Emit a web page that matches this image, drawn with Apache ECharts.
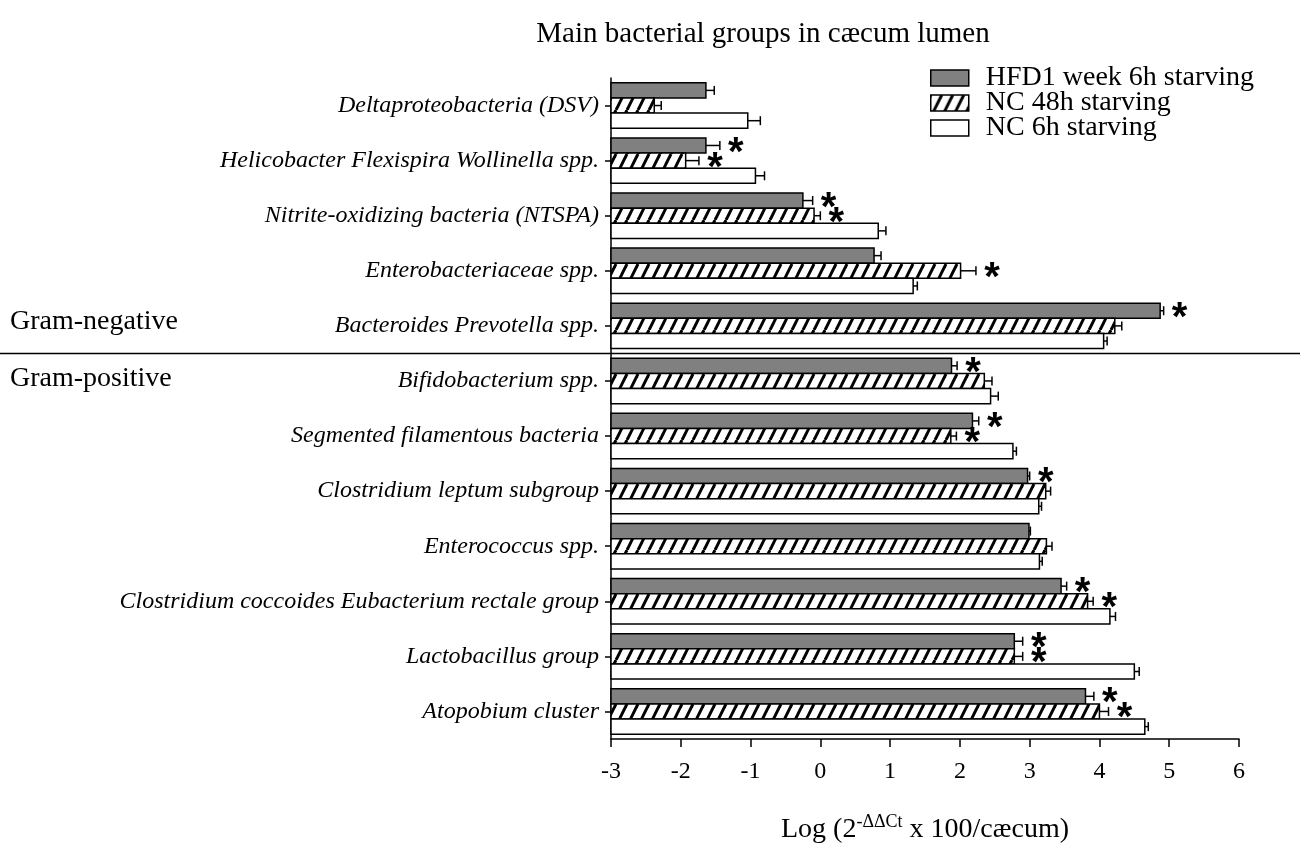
<!DOCTYPE html>
<html>
<head>
<meta charset="utf-8">
<script src="https://cdn.jsdelivr.net/npm/echarts@6/dist/echarts.min.js"></script>
<style>html,body{margin:0;padding:0;background:#fff}#c{width:1309px;height:843px}</style>
</head>
<body>
<div id="c"></div>
<script>
const categories = [
  'Deltaproteobacteria (DSV)',
  'Helicobacter Flexispira Wollinella spp.',
  'Nitrite-oxidizing bacteria (NTSPA)',
  'Enterobacteriaceae spp.',
  'Bacteroides Prevotella spp.',
  'Bifidobacterium spp.',
  'Segmented filamentous bacteria',
  'Clostridium leptum subgroup',
  'Enterococcus spp.',
  'Clostridium coccoides Eubacterium rectale group',
  'Lactobacillus group',
  'Atopobium cluster'
];
const seriesNames = ['HFD1 week 6h starving', 'NC 48h starving', 'NC 6h starving'];
const hfd     = [-1.64, -1.64, -0.25, 0.77, 4.87, 1.88, 2.18, 2.97, 2.99, 3.45, 2.78, 3.80];
const hfdErr  = [0.12, 0.20, 0.14, 0.10, 0.05, 0.08, 0.09, 0.03, 0.02, 0.08, 0.12, 0.12];
const hfdSig  = [0, 1, 1, 0, 1, 1, 1, 1, 0, 1, 1, 1];
const nc48    = [-2.38, -1.93, -0.09, 2.01, 4.22, 2.35, 1.87, 3.23, 3.24, 3.83, 2.78, 4.00];
const nc48Err = [0.10, 0.19, 0.09, 0.22, 0.10, 0.11, 0.08, 0.07, 0.08, 0.08, 0.12, 0.13];
const nc48Sig = [0, 1, 1, 1, 0, 0, 1, 0, 0, 1, 1, 1];
const nc6     = [-1.04, -0.93, 0.83, 1.33, 4.06, 2.44, 2.76, 3.13, 3.14, 4.15, 4.50, 4.65];
const nc6Err  = [0.18, 0.13, 0.11, 0.06, 0.05, 0.11, 0.05, 0.04, 0.04, 0.08, 0.07, 0.05];
const nc6Sig  = [0, 0, 0, 0, 0, 0, 0, 0, 0, 0, 0, 0];
const xTicks = { min: -3, max: 6, interval: 1 };

const FONT = 'Liberation Serif';

// hatch pattern
const pc = document.createElement('canvas');
const PW = 11, PH = 22;
pc.width = PW; pc.height = PH;
const ctx = pc.getContext('2d');
ctx.fillStyle = '#fff'; ctx.fillRect(0, 0, PW, PH);
ctx.strokeStyle = '#000'; ctx.lineWidth = 3;
for (let x0 = -PW; x0 <= PW; x0 += PW) {
  ctx.beginPath(); ctx.moveTo(x0, PH); ctx.lineTo(x0 + PW, 0); ctx.stroke();
}
const hatch = { image: pc, repeat: 'repeat' };

function makeSeries(name, vals, errs, sigs, k, fill) {
  return {
    type: 'custom',
    name: name,
    itemStyle: { color: fill, borderColor: '#000', borderWidth: 1.5 },
    encode: { x: 0, y: 1 },
    data: vals.map((v, i) => [v, i, errs[i], sigs[i]]),
    renderItem: function (params, api) {
      const v = api.value(0), i = api.value(1), e = api.value(2), s = api.value(3);
      const base = api.coord([xTicks.min, i]);
      const end = api.coord([v, i]);
      const eEnd = api.coord([v + e, i]);
      const band = api.size([0, 1])[1];
      const h = band * 0.275;
      const cy = base[1] + k * h;
      const children = [
        { type: 'rect', shape: { x: base[0], y: cy - h / 2, width: end[0] - base[0], height: h },
          style: { fill: fill, stroke: '#000', lineWidth: 1.5 } },
        { type: 'line', shape: { x1: end[0], y1: cy, x2: eEnd[0], y2: cy },
          style: { stroke: '#000', lineWidth: 1.5 } },
        { type: 'line', shape: { x1: eEnd[0], y1: cy - 4.5, x2: eEnd[0], y2: cy + 4.5 },
          style: { stroke: '#000', lineWidth: 1.5 } }
      ];
      if (s) {
        children.push({ type: 'text', x: eEnd[0] + 16, y: cy + 8,
          style: { text: '*', fill: '#000', font: 'bold 40px "Liberation Sans"', align: 'center', verticalAlign: 'middle' } });
      }
      return { type: 'group', children: children };
    }
  };
}

const chart = echarts.init(document.getElementById('c'));
const option = {
  animation: false,
  title: {
    text: 'Main bacterial groups in cæcum lumen',
    left: 758, top: 15, textAlign: 'center',
    textStyle: { fontFamily: FONT, fontSize: 29, fontWeight: 'normal', color: '#000' }
  },
  legend: {
    orient: 'vertical', left: 930, top: 64, padding: 0, itemWidth: 38, itemHeight: 16, itemGap: -3,
    textStyle: { fontFamily: FONT, fontSize: 28, color: '#000', padding: [0, 0, 0, 12], lineHeight: 25 },
    data: [
      { name: seriesNames[0], icon: 'rect', itemStyle: { color: '#808080', borderColor: '#000', borderWidth: 1.5 } },
      { name: seriesNames[1], icon: 'rect', itemStyle: { color: hatch, borderColor: '#000', borderWidth: 1.5 } },
      { name: seriesNames[2], icon: 'rect', itemStyle: { color: '#fff', borderColor: '#000', borderWidth: 1.5 } }
    ]
  },
  grid: { left: 611, right: 70, top: 78, height: 661, outerBoundsMode: 'none', containLabel: false },
  xAxis: {
    type: 'value', min: xTicks.min, max: xTicks.max, interval: xTicks.interval,
    splitLine: { show: false },
    axisLine: { show: true, lineStyle: { color: '#000', width: 1.5 } },
    axisTick: { show: true, length: 8, lineStyle: { color: '#000', width: 1.5 } },
    axisLabel: { color: '#000', fontFamily: FONT, fontSize: 24, margin: 21 },
    name: '{a|Log (2}{sup|-ΔΔCt}{a| x 100/cæcum)}',
    nameLocation: 'middle', nameGap: 74,
    nameTextStyle: {
      rich: {
        a: { fontFamily: FONT, fontSize: 28, color: '#000' },
        sup: { fontFamily: FONT, fontSize: 18, color: '#000', padding: [0, 0, 16, 0] }
      }
    }
  },
  yAxis: {
    type: 'category', inverse: true, data: categories,
    axisLine: { show: true, onZero: false, lineStyle: { color: '#000', width: 1.5 } },
    axisTick: { show: true, length: 6, alignWithLabel: true, lineStyle: { color: '#000', width: 1.5 } },
    axisLabel: { color: '#000', fontFamily: FONT, fontSize: 24, fontStyle: 'italic', margin: 12 }
  },
  series: [
    makeSeries(seriesNames[0], hfd, hfdErr, hfdSig, -1, '#808080'),
    makeSeries(seriesNames[1], nc48, nc48Err, nc48Sig, 0, hatch),
    makeSeries(seriesNames[2], nc6, nc6Err, nc6Sig, 1, '#fff')
  ]
};
chart.setOption(option);

const yNeg = chart.convertToPixel({ yAxisIndex: 0 }, 4);
const yPos = chart.convertToPixel({ yAxisIndex: 0 }, 5);
const yDiv = (yNeg + yPos) / 2;
chart.setOption({
  graphic: [
    { type: 'line', shape: { x1: 0, y1: yDiv, x2: 1300, y2: yDiv }, style: { stroke: '#000', lineWidth: 1.5 } },
    { type: 'text', x: 10, y: yDiv - 32, style: { text: 'Gram-negative', font: '28px "Liberation Serif"', fill: '#000', verticalAlign: 'middle' } },
    { type: 'text', x: 10, y: yDiv + 25, style: { text: 'Gram-positive', font: '28px "Liberation Serif"', fill: '#000', verticalAlign: 'middle' } }
  ]
});
</script>
</body>
</html>
